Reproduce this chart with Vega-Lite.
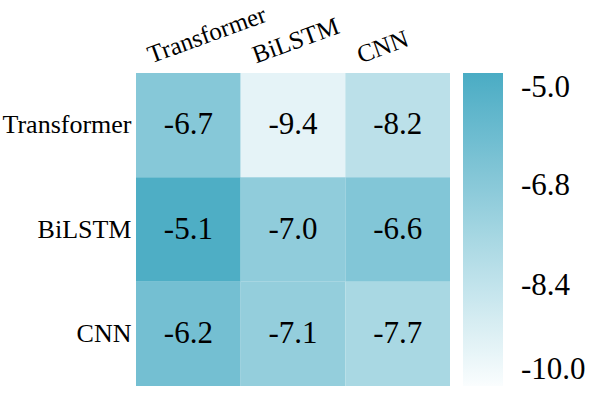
{
  "$schema": "https://vega.github.io/schema/vega-lite/v6.json",
  "width": 314,
  "height": 313,
  "autosize": {"type": "none"},
  "padding": {"left": 136, "top": 73, "right": 139, "bottom": 11},
  "background": "white",
  "config": {
    "view": {"stroke": null},
    "font": "Liberation Serif",
    "locale": {"number": {"decimal": ".", "thousands": ",", "grouping": [3], "currency": ["$", ""], "minus": "-"}}
  },
  "data": {"values": [
    {"row": "Transformer", "col": "Transformer", "v": -6.7},
    {"row": "Transformer", "col": "BiLSTM", "v": -9.4},
    {"row": "Transformer", "col": "CNN", "v": -8.2},
    {"row": "BiLSTM", "col": "Transformer", "v": -5.1},
    {"row": "BiLSTM", "col": "BiLSTM", "v": -7.0},
    {"row": "BiLSTM", "col": "CNN", "v": -6.6},
    {"row": "CNN", "col": "Transformer", "v": -6.2},
    {"row": "CNN", "col": "BiLSTM", "v": -7.1},
    {"row": "CNN", "col": "CNN", "v": -7.7}
  ]},
  "encoding": {
    "x": {"field": "col", "type": "nominal", "sort": ["Transformer", "BiLSTM", "CNN"],
      "scale": {"paddingInner": 0, "paddingOuter": 0},
      "axis": {"orient": "top", "title": null, "domain": false, "ticks": false,
        "labelAngle": -20, "labelAlign": "left", "labelBaseline": "alphabetic",
        "labelOffset": -37, "labelPadding": 10, "labelFont": "Liberation Serif",
        "labelFontSize": 25, "labelColor": "black"}},
    "y": {"field": "row", "type": "nominal", "sort": ["Transformer", "BiLSTM", "CNN"],
      "scale": {"paddingInner": 0, "paddingOuter": 0},
      "axis": {"title": null, "domain": false, "ticks": false, "labelPadding": 5,
        "labelFont": "Liberation Serif", "labelFontSize": 26, "labelColor": "black"}}
  },
  "layer": [
    {"mark": {"type": "rect"},
     "encoding": {"color": {"field": "v", "type": "quantitative",
       "scale": {"domain": [-10, -5], "range": ["#FAFDFE", "#4AACC4"], "interpolate": "rgb"},
       "legend": {"orient": "none", "legendX": 327, "legendY": 0, "title": null,
         "gradientLength": 313, "gradientThickness": 40, "gradientStrokeWidth": 0,
         "values": [-5, -6.8, -8.4, -10], "format": ".1f",
         "labelFont": "Liberation Serif", "labelFontSize": 31, "labelColor": "black",
         "labelOffset": 18}}}},
    {"mark": {"type": "text", "font": "Liberation Serif", "fontSize": 31, "color": "black"},
     "encoding": {"text": {"field": "v", "type": "quantitative", "format": ".1f"}}}
  ]
}
